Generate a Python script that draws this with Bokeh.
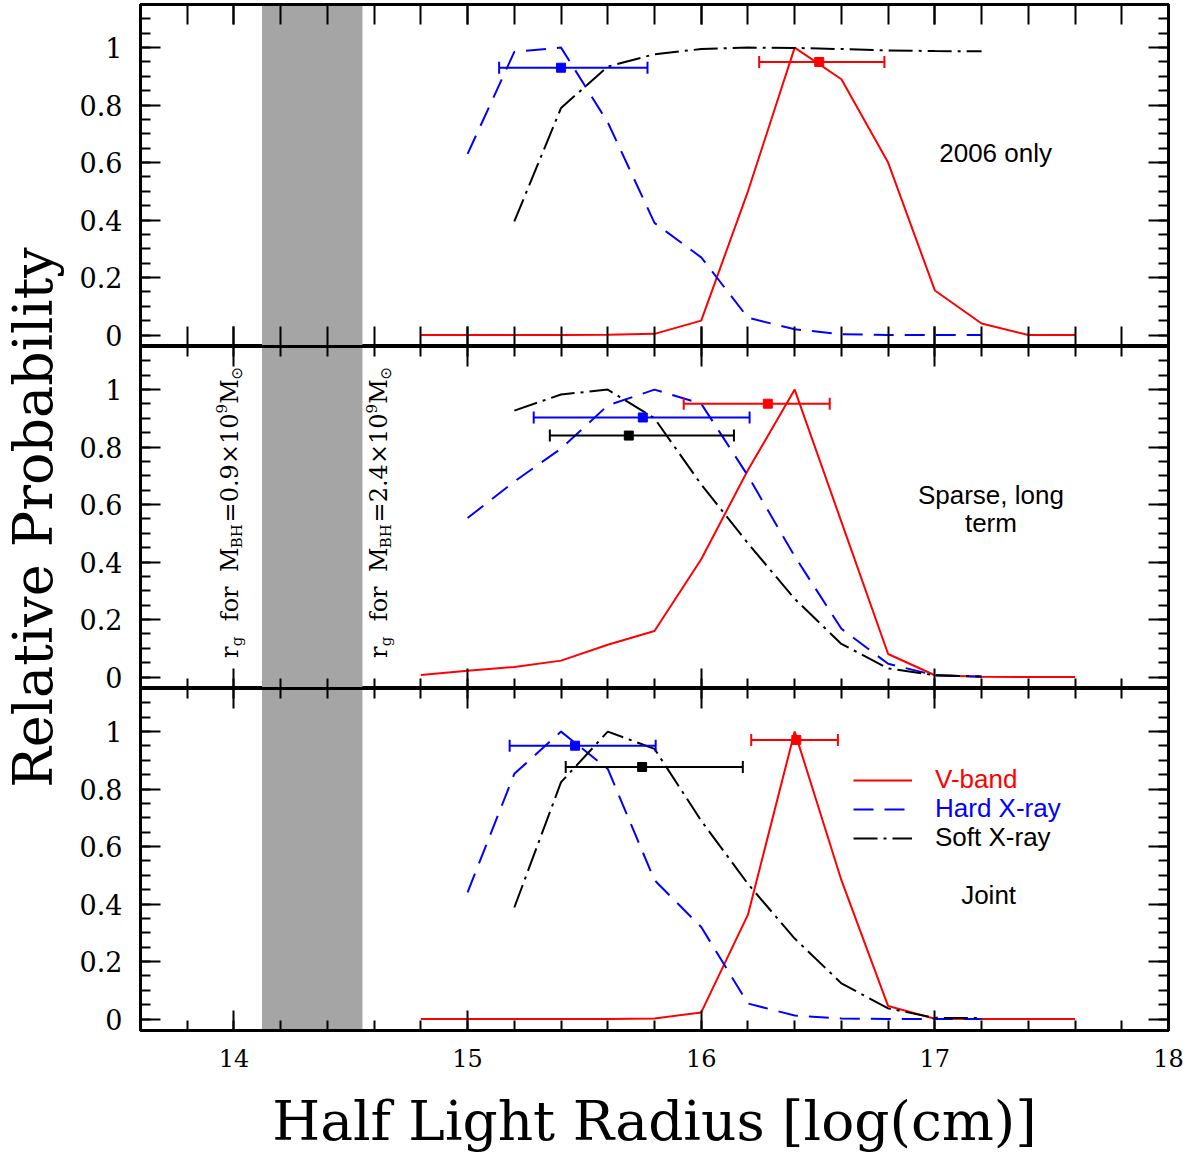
import math

from bokeh.core.properties import value
from bokeh.embed import file_html
from bokeh.layouts import column, row
from bokeh.models import (BoxAnnotation, ColumnDataSource, CustomLabelingPolicy,
                          FixedTicker, Legend, LegendItem, LinearAxis, Range1d,
                          TeeHead, Whisker)
from bokeh.plotting import figure
from bokeh.resources import INLINE

# ---------------------------------------------------------------------------
# Data: relative probability versus half light radius (log cm)
# ---------------------------------------------------------------------------
radius_v = [14.8, 15.0, 15.2, 15.4, 15.6, 15.8, 16.0, 16.2, 16.4, 16.6, 16.8, 17.0, 17.2, 17.4, 17.6]
radius_hard = [15.0, 15.2, 15.4, 15.6, 15.8, 16.0, 16.2, 16.4, 16.6, 16.8, 17.0, 17.2]
radius_soft = [15.2, 15.4, 15.6, 15.8, 16.0, 16.2, 16.4, 16.6, 16.8, 17.0, 17.2]

# 2006 only
v_2006 = [0, 0, 0, 0, 0.001, 0.004, 0.05, 0.50, 1.0, 0.89, 0.60, 0.155, 0.04, 0, 0]
hard_2006 = [0.63, 0.985, 1.0, 0.74, 0.39, 0.27, 0.06, 0.02, 0.003, 0, 0, 0]
soft_2006 = [0.395, 0.79, 0.934, 0.977, 0.995, 1.0, 0.999, 0.995, 0.99, 0.988, 0.987]

# Sparse, long term
v_sparse = [0.007, 0.022, 0.035, 0.057, 0.112, 0.16, 0.41, 0.72, 1.0, 0.54, 0.08, 0.006, 0.001, 0, 0]
hard_sparse = [0.553, 0.68, 0.795, 0.945, 1.0, 0.951, 0.70, 0.42, 0.168, 0.046, 0.006, 0.001]
soft_sparse = [0.927, 0.983, 1.0, 0.90, 0.67, 0.465, 0.272, 0.115, 0.03, 0.006, 0.002]

# Joint
v_joint = [0, 0, 0, 0, 0, 0.002, 0.023, 0.363, 1.0, 0.483, 0.045, 0.001, 0, 0, 0]
hard_joint = [0.441, 0.853, 1.0, 0.87, 0.483, 0.32, 0.054, 0.012, 0.002, 0, 0, 0]
soft_joint = [0.388, 0.824, 1.0, 0.94, 0.69, 0.47, 0.28, 0.124, 0.037, 0.004, 0.003]

# Best estimates with ranges: (band, centre, probability, low, high)
bars_2006 = [("v", 16.505, 0.95, 16.248, 16.784),
             ("hard", 15.40, 0.93, 15.135, 15.77)]
bars_sparse = [("v", 16.285, 0.951, 15.925, 16.55),
               ("hard", 15.75, 0.903, 15.283, 16.207),
               ("soft", 15.69, 0.84, 15.352, 16.14)]
bars_joint = [("v", 16.407, 0.971, 16.214, 16.585),
              ("hard", 15.46, 0.951, 15.18, 15.805),
              ("soft", 15.747, 0.877, 15.42, 16.178)]

panel_names = ["2006 only", "Sparse, long\nterm", "Joint"]
band_names = {"v": "V-band", "hard": "Hard X-ray", "soft": "Soft X-ray"}

# gravitational radius range for the two black hole masses
rg_low, rg_high = 14.12, 14.55

# axis ticks
x_ticks = [14, 15, 16, 17, 18]
x_minor = [round(13.6 + 0.2 * i, 1) for i in range(23)]
y_ticks = [0, 0.2, 0.4, 0.6, 0.8, 1.0]
y_tick_labels = ["0", "0.2", "0.4", "0.6", "0.8", "1"]
y_minor = [round(0.05 * i, 2) for i in range(23)]

# ---------------------------------------------------------------------------
COLORS = {"v": "#ff0000", "hard": "#0000ff", "soft": "#000000"}
DASH = {"v": "solid", "hard": "20 11", "soft": "24 6 3 6"}
SERIF = "DejaVu Serif"
SANS = "Liberation Sans"

FRAME_W, FRAME_H = 1028, 342
LEFT, RIGHT = 70, 28
BOTTOM = 132


def add_axis(p, side, labelled, long_minor_x=False):
    is_x = side in ("below", "above")
    ticker = FixedTicker(ticks=x_ticks, minor_ticks=x_minor) if is_x else \
        FixedTicker(ticks=y_ticks, minor_ticks=y_minor)
    ax = LinearAxis(ticker=ticker)
    ax.axis_line_width = 3
    ax.axis_line_color = "black"
    ax.major_tick_in = 20
    ax.major_tick_out = 0
    ax.minor_tick_in = 20 if (is_x and long_minor_x) else 10
    ax.minor_tick_out = 0
    ax.major_tick_line_width = 2
    ax.minor_tick_line_width = 2
    ax.major_tick_line_color = "black"
    ax.minor_tick_line_color = "black"
    if labelled:
        ax.major_label_text_font = SERIF
        ax.major_label_text_color = "black"
        if is_x:
            ax.major_label_text_font_size = "24px"
            ax.major_label_standoff = 18
        else:
            ax.major_label_text_font_size = "27px"
            ax.major_label_standoff = 18
            ax.major_label_overrides = dict(zip(y_ticks, y_tick_labels))
    else:
        # tick marks only: no labels and no space kept for them
        ax.major_label_policy = CustomLabelingPolicy(code="return new Set()")
        ax.major_label_text_font_size = "0px"
        ax.major_label_standoff = 0
    p.add_layout(ax, side)
    return ax


def make_panel(idx, v, hard, soft, bars, top_border, bottom_border, bottom_labels):
    p = figure(frame_width=FRAME_W, frame_height=FRAME_H,
               x_range=Range1d(13.6, 18.0), y_range=Range1d(-0.04, 1.15),
               x_axis_location=None, y_axis_location=None,
               toolbar_location=None, output_backend="svg",
               min_border_left=LEFT, min_border_right=RIGHT,
               min_border_top=top_border, min_border_bottom=bottom_border)
    p.grid.visible = False
    p.outline_line_color = "black"
    p.outline_line_width = 3
    p.background_fill_color = "white"
    p.border_fill_color = "white"

    long_minor = idx == 0
    add_axis(p, "left", True)
    add_axis(p, "right", False)
    add_axis(p, "above", False, long_minor)
    xb = add_axis(p, "below", bottom_labels, long_minor)
    if bottom_labels:
        xb.axis_label = "Half Light Radius [log(cm)]"
        xb.axis_label_text_font = SERIF
        xb.axis_label_text_font_style = "normal"
        xb.axis_label_text_font_size = "55px"
        xb.axis_label_text_color = "black"
        xb.axis_label_standoff = 19

    p.add_layout(BoxAnnotation(left=rg_low, right=rg_high, fill_color="#a5a5a5",
                               fill_alpha=1.0, line_color=None, level="underlay"))

    renderers = {}
    for key, xs, ys in (("v", radius_v, v), ("hard", radius_hard, hard), ("soft", radius_soft, soft)):
        renderers[key] = p.line(xs, ys, line_color=COLORS[key], line_width=2,
                                line_dash=DASH[key])

    for key, cx, cy, lo, hi in bars:
        src = ColumnDataSource(dict(x=[cx], y=[cy], lo=[lo], hi=[hi]))
        p.add_layout(Whisker(source=src, base="y", lower="lo", upper="hi",
                             dimension="width", line_color=COLORS[key], line_width=2,
                             lower_head=TeeHead(size=12, line_color=COLORS[key], line_width=2),
                             upper_head=TeeHead(size=12, line_color=COLORS[key], line_width=2),
                             level="glyph"))
        p.scatter("x", "y", source=src, marker="square", size=9,
                  fill_color=COLORS[key], line_color=COLORS[key])

    # panel caption
    label_pos = [(17.26, 0.632), (17.24, 0.585), (17.23, 0.43)][idx]
    p.text(x=[label_pos[0]], y=[label_pos[1]], text=[panel_names[idx]],
           text_font=value(SANS), text_font_size="26px", text_align="center",
           text_baseline="middle", text_line_height=0.95, text_color="black")

    return p, renderers


p_top, _ = make_panel(0, v_2006, hard_2006, soft_2006, bars_2006, 4, 0, False)
p_mid, _ = make_panel(1, v_sparse, hard_sparse, soft_sparse, bars_sparse, 0, 0, False)
p_bot, rends = make_panel(2, v_joint, hard_joint, soft_joint, bars_joint, 0, BOTTOM, True)

# gravitational radius annotations (rotated, written in pieces for sub/superscripts)
rg_masses = [(14.0385, "0.9"), (14.677, "2.4")]
px_per_unit_x = FRAME_W / 4.4
main_size, small_size = "24px", "15px"
for base_px, mass in rg_masses:
    base_x = base_px - 13 / px_per_unit_x
    sub_x = base_x + 7 / px_per_unit_x
    sup_x = base_x - 8 / px_per_unit_x
    pieces = [
        ("r", base_x, 0.066, main_size, SERIF),
        ("g", sub_x, 0.107, small_size, SERIF),
        ("for", base_x, 0.194, main_size, SERIF),
        ("M", base_x, 0.365, main_size, SERIF),
        ("BH", sub_x, 0.448, small_size, SERIF),
        ("=" + mass + "\u00d710", base_x, 0.538, main_size, SERIF),
        ("9", sup_x, 0.917, small_size, SERIF),
        ("M", base_x, 0.951, main_size, SERIF),
        ("\u2299", sub_x, 1.035, small_size, "DejaVu Sans"),
    ]
    for txt, tx, ty, size, font in pieces:
        p_mid.text(x=[tx], y=[ty], text=[txt], angle=math.pi / 2,
                   text_font=value(font), text_font_size=size,
                   text_align="left", text_baseline="alphabetic", text_color="black")

# legend (one per entry so each label takes its line colour)
legend_rows = [("v", 235), ("hard", 206), ("soft", 177)]
for key, ly in legend_rows:
    leg = Legend(items=[LegendItem(label=band_names[key], renderers=[rends[key]])],
                 location=(713, ly), orientation="vertical",
                 glyph_width=59, glyph_height=20, label_standoff=23,
                 padding=0, margin=0, spacing=0,
                 border_line_color=None, background_fill_alpha=0,
                 label_text_font=SANS, label_text_font_size="26px",
                 label_text_color=COLORS[key])
    p_bot.add_layout(leg)

# shared y title in a narrow strip on the left
TOTAL_H = 4 + 3 * FRAME_H + BOTTOM
title = figure(frame_width=LEFT, frame_height=TOTAL_H,
               x_range=Range1d(0, LEFT), y_range=Range1d(0, TOTAL_H),
               x_axis_location=None, y_axis_location=None,
               toolbar_location=None, output_backend="svg", min_border=0)
title.grid.visible = False
title.outline_line_color = None
title.border_fill_color = "white"
title.background_fill_color = "white"
title.text(x=[33], y=[TOTAL_H - 517], text=["Relative Probability"], angle=math.pi / 2,
           text_font=value(SERIF), text_font_size="54px", text_align="center",
           text_baseline="middle", text_color="black")

layout = row(title, column(p_top, p_mid, p_bot, spacing=0), spacing=0)

with open("out.html", "w") as f:
    f.write(file_html(layout, INLINE))
